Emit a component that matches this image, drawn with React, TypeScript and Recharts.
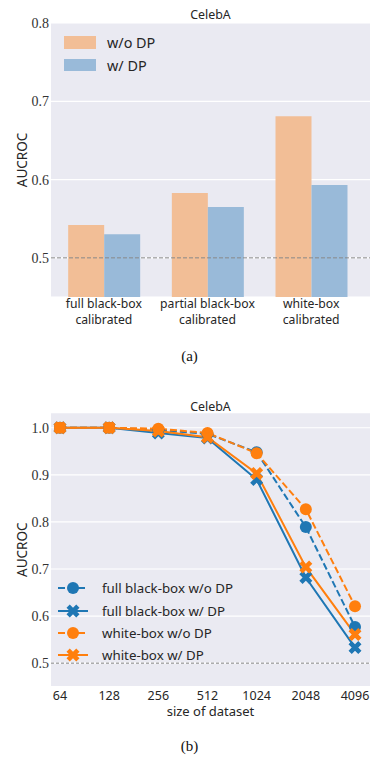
import React from "react";
import {
  BarChart,
  Bar,
  LineChart,
  Line,
  XAxis,
  YAxis,
  CartesianGrid,
  ReferenceLine,
  Legend,
} from "recharts";

// (a) bar chart values
const attackTypes = [
  "full black-box\ncalibrated",
  "partial black-box\ncalibrated",
  "white-box\ncalibrated",
];
const aucNoDp = [0.542, 0.583, 0.681];
const aucDp = [0.53, 0.565, 0.593];
const barTicks = [0.5, 0.6, 0.7, 0.8];

// (b) line chart values
const datasetSizes = [64, 128, 256, 512, 1024, 2048, 4096];
const fullBbNoDp = [1.0, 1.0, 0.995, 0.987, 0.948, 0.789, 0.577];
const fullBbDp = [1.0, 1.0, 0.989, 0.978, 0.89, 0.682, 0.533];
const whiteNoDp = [1.0, 1.0, 0.998, 0.989, 0.946, 0.827, 0.621];
const whiteDp = [1.0, 1.0, 0.993, 0.98, 0.903, 0.704, 0.561];
const lineTicks = [0.5, 0.6, 0.7, 0.8, 0.9, 1.0];

const SANS = "'Noto Sans', 'DejaVu Sans', sans-serif";
const SERIF = "'Liberation Serif', 'DejaVu Serif', serif";
const BG = "#EAEAF2";
const INK = "#262626";
const BLUE = "#1f77b4";
const ORANGE = "#ff7f0e";

const barSeries = [
  { key: "noDp", name: "w/o DP", color: "#F2BE96" },
  { key: "dp", name: "w/ DP", color: "#99BAD9" },
];

const lineSeries = [
  { key: "fullNoDp", name: "full black-box w/o DP", color: BLUE, dashed: true, marker: "circle" },
  { key: "fullDp", name: "full black-box w/ DP", color: BLUE, dashed: false, marker: "x" },
  { key: "whiteNoDp", name: "white-box w/o DP", color: ORANGE, dashed: true, marker: "circle" },
  { key: "whiteDp", name: "white-box w/ DP", color: ORANGE, dashed: false, marker: "x" },
];

const barRows = attackTypes.map((name, i) => ({ name, noDp: aucNoDp[i], dp: aucDp[i] }));
const lineRows = datasetSizes.map((size, i) => ({
  idx: i,
  size,
  fullNoDp: fullBbNoDp[i],
  fullDp: fullBbDp[i],
  whiteNoDp: whiteNoDp[i],
  whiteDp: whiteDp[i],
}));

// filled "X" marker like matplotlib's
const xPath = (cx: number, cy: number, r: number) => {
  const pts = [
    [-1, -2], [0, -1], [1, -2], [2, -1], [1, 0], [2, 1],
    [1, 2], [0, 1], [-1, 2], [-2, 1], [-1, 0], [-2, -1],
  ];
  return (
    pts
      .map(([px, py], k) => `${k === 0 ? "M" : "L"}${cx + (px * r) / 2},${cy + (py * r) / 2}`)
      .join(" ") + " Z"
  );
};

const Marker = ({ cx, cy, color, kind }: any) =>
  kind === "circle" ? (
    <circle cx={cx} cy={cy} r={6} fill={color} />
  ) : (
    <path d={xPath(cx, cy, 6.5)} fill={color} />
  );

const CategoryTick = ({ x, y, payload }: any) => {
  const lines = String(payload.value).split("\n");
  return (
    <text x={x} y={y} textAnchor="middle" fontFamily={SANS} fontSize={12.2} fill={INK}>
      {lines.map((l, k) => (
        <tspan key={k} x={x} dy={k === 0 ? 11 : 15.5}>
          {l}
        </tspan>
      ))}
    </text>
  );
};

const BarLegend = () => (
  <div style={{ fontFamily: SANS, fontSize: 14.4, color: INK }}>
    {barSeries.map((s) => (
      <div key={s.key} style={{ display: "flex", alignItems: "center", height: 22.7 }}>
        <span style={{ width: 32, height: 12.5, background: s.color, marginRight: 11 }} />
        <span>{s.name}</span>
      </div>
    ))}
  </div>
);

const LineLegend = () => (
  <div style={{ fontFamily: SANS, fontSize: 13.3, color: INK }}>
    {lineSeries.map((s) => (
      <div key={s.key} style={{ display: "flex", alignItems: "center", height: 22.4 }}>
        <svg width={30} height={16} style={{ marginRight: 14 }}>
          <line
            x1={0}
            x2={30}
            y1={8}
            y2={8}
            stroke={s.color}
            strokeWidth={2}
            strokeDasharray={s.dashed ? "7 3" : undefined}
          />
          <Marker cx={15} cy={8} color={s.color} kind={s.marker} />
        </svg>
        <span>{s.name}</span>
      </div>
    ))}
  </div>
);

const yTickStyle = { fontFamily: SERIF, fontSize: 14, fill: "#333" };
const yLabel = {
  value: "AUCROC",
  angle: -90,
  position: "center" as const,
  dx: -3.5,
  style: { fontFamily: SANS, fontSize: 13.5, fill: INK },
};

function BarPanel() {
  return (
    <BarChart
      width={373}
      height={340}
      data={barRows}
      margin={{ top: 23, right: 3, left: 0, bottom: 0 }}
      barCategoryGap="15.6%"
      barGap={0}
    >
      <CartesianGrid vertical={false} stroke="#fff" strokeWidth={1.2} fill={BG} />
      <XAxis
        dataKey="name"
        height={43}
        axisLine={false}
        tickLine={false}
        tickSize={0}
        tickMargin={0}
        padding={{ left: 1, right: 7 }}
        tick={<CategoryTick />}
        interval={0}
      />
      <YAxis
        width={51}
        domain={[0.45, 0.8]}
        ticks={barTicks}
        allowDataOverflow
        axisLine={false}
        tickLine={false}
        tickSize={0}
        tickMargin={2}
        tick={yTickStyle}
        tickFormatter={(v: number) => v.toFixed(1)}
        label={yLabel}
      />
      {barSeries.map((s) => (
        <Bar key={s.key} dataKey={s.key} name={s.name} fill={s.color} isAnimationActive={false} />
      ))}
      <ReferenceLine y={0.5} stroke="#888" strokeDasharray="4 2" strokeWidth={1} />
      <Legend
        layout="vertical"
        align="center"
        verticalAlign="middle"
        content={<BarLegend />}
        wrapperStyle={{ top: 31, left: 64, width: "auto" }}
      />
    </BarChart>
  );
}

function LinePanel() {
  return (
    <LineChart
      width={373}
      height={330}
      data={lineRows}
      margin={{ top: 22.7, right: 3, left: 0, bottom: 0 }}
    >
      <CartesianGrid vertical={false} stroke="#fff" strokeWidth={1.2} fill={BG} />
      <XAxis
        type="number"
        dataKey="idx"
        domain={[-0.183, 6.305]}
        ticks={datasetSizes.map((_, i) => i)}
        allowDataOverflow
        height={33.3}
        axisLine={false}
        tickLine={false}
        tickSize={0}
        tickMargin={4}
        tick={{ fontFamily: SANS, fontSize: 12.5, fill: INK }}
        tickFormatter={(i: number) => String(datasetSizes[i])}
        label={{
          value: "size of dataset",
          position: "insideBottom",
          offset: 4,
          style: { fontFamily: SANS, fontSize: 13, fill: INK },
        }}
      />
      <YAxis
        width={51}
        domain={[0.45, 1.032]}
        ticks={lineTicks}
        allowDataOverflow
        axisLine={false}
        tickLine={false}
        tickSize={0}
        tickMargin={2}
        tick={yTickStyle}
        tickFormatter={(v: number) => v.toFixed(1)}
        label={yLabel}
      />
      <ReferenceLine y={0.5} stroke="#666" strokeDasharray="3 2" strokeWidth={0.8} />
      {lineSeries.map((s) => (
        <Line
          key={s.key}
          type="linear"
          dataKey={s.key}
          name={s.name}
          stroke={s.color}
          strokeWidth={2}
          strokeDasharray={s.dashed ? "7 3" : undefined}
          dot={(p: any) => (
            <Marker key={`${s.key}-${p.index}`} cx={p.cx} cy={p.cy} color={s.color} kind={s.marker} />
          )}
          activeDot={false}
          isAnimationActive={false}
        />
      ))}
      <Legend
        layout="vertical"
        align="center"
        verticalAlign="middle"
        content={<LineLegend />}
        wrapperStyle={{ top: 187, left: 58, width: "auto" }}
      />
    </LineChart>
  );
}

export default function App() {
  return (
    <div style={{ position: "absolute", left: 0, top: 0, width: 373, height: 759, background: "#fff" }}>
      <div style={{ position: "absolute", left: 0, top: 0 }}>
        <BarPanel />
      </div>
      <div style={{ position: "absolute", left: 0, top: 390 }}>
        <LinePanel />
      </div>
      <svg
        width={373}
        height={759}
        style={{ position: "absolute", left: 0, top: 0, pointerEvents: "none" }}
      >
        <text x={210.5} y={19.3} textAnchor="middle" fontFamily={SANS} fontSize={12.4} fill={INK}>
          CelebA
        </text>
        <text x={210.5} y={410.5} textAnchor="middle" fontFamily={SANS} fontSize={12.4} fill={INK}>
          CelebA
        </text>
        <text x={189.5} y={361} textAnchor="middle" fontFamily={SERIF} fontSize={15} fill="#111">
          (a)
        </text>
        <text x={189.5} y={751} textAnchor="middle" fontFamily={SERIF} fontSize={15} fill="#111">
          (b)
        </text>
      </svg>
    </div>
  );
}
